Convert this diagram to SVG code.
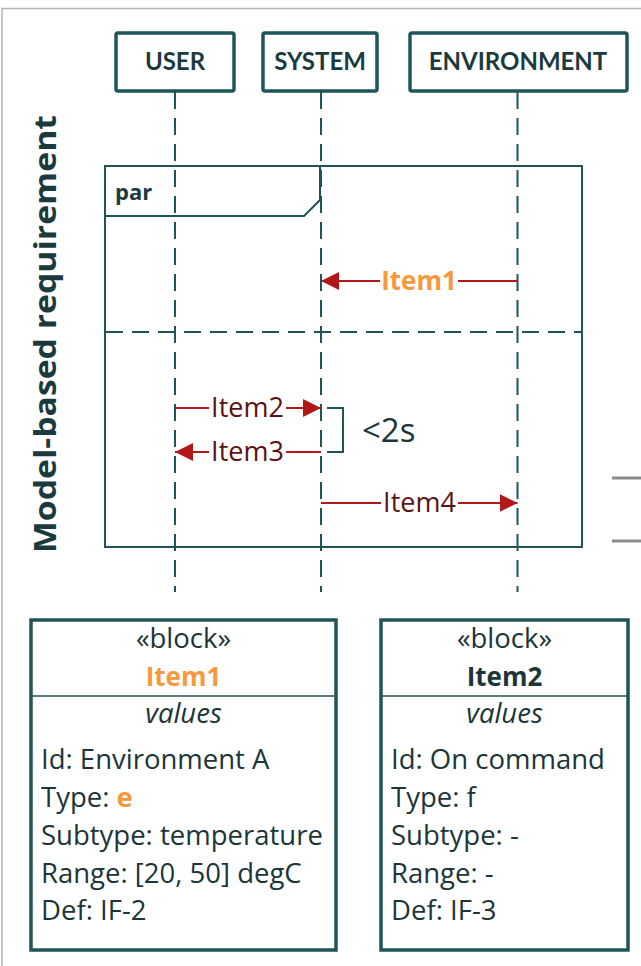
<svg xmlns="http://www.w3.org/2000/svg" width="641" height="966" viewBox="0 0 641 966">
  <style>
    .frameline { stroke: #b4b4b4; stroke-width: 1.5; fill: none; }
    .hdr { fill: #ffffff; stroke: #1f5558; stroke-width: 3.5; }
    .hdrtxt { font-family: Lato, "Open Sans", sans-serif; font-weight: bold; font-size: 24px; fill: #1b3a3d; text-anchor: middle; }
    .life { stroke: #1f5558; stroke-width: 2; stroke-dasharray: 17 9; fill: none; }
    .frag { stroke: #1f5558; stroke-width: 2; fill: none; }
    .sep { stroke: #1f5558; stroke-width: 2; stroke-dasharray: 17 9; fill: none; }
    .msg { stroke: #b2171a; stroke-width: 2; fill: none; }
    .lbl { font-family: "Open Sans", Lato, sans-serif; font-size: 27px; fill: #5e1214; text-anchor: middle; }
    .lbl1 { font-family: "Open Sans", Lato, sans-serif; font-size: 26px; font-weight: bold; fill: #f7993a; text-anchor: middle; }
    .blk { fill: #ffffff; stroke: #1f5558; stroke-width: 3.5; }
    .div { stroke: #1f5558; stroke-width: 1.5; }
    .btxt { font-family: "Open Sans", Lato, sans-serif; font-size: 27.5px; fill: #1b3538; }
    .mid { text-anchor: middle; }
    .ttl { font-weight: bold; font-size: 26px; }
    .org { fill: #f7993a; }
  </style>
  <defs>
    <marker id="head" viewBox="0 0 18 18" refX="18" refY="9" markerWidth="18" markerHeight="18" markerUnits="userSpaceOnUse" orient="auto">
      <path d="M0,0 L18,9 L0,18 Z" fill="#b2171a"/>
    </marker>
  </defs>

  <!-- page edge -->
  <path class="frameline" d="M2,966 L2,8.5 L641,8.5"/>

  <!-- vertical title -->
  <text x="56" y="334" transform="rotate(-90 56 334)" font-family="'Open Sans', Lato, sans-serif" font-weight="bold" font-size="31" fill="#1b3a3d" text-anchor="middle" textLength="438" lengthAdjust="spacingAndGlyphs">Model-based requirement</text>

  <!-- lifelines -->
  <g id="lifelines">
    <line class="life" x1="175" y1="92" x2="175" y2="592"/>
    <line class="life" x1="321" y1="92" x2="321" y2="592"/>
    <line class="life" x1="517.5" y1="92" x2="517.5" y2="592"/>
  </g>

  <!-- lifeline heads -->
  <g id="user">
    <rect class="hdr" x="116" y="33" width="118" height="58" rx="2"/>
    <text class="hdrtxt" x="175" y="70">USER</text>
  </g>
  <g id="system">
    <rect class="hdr" x="263" y="33" width="114" height="58" rx="2"/>
    <text class="hdrtxt" x="320" y="70">SYSTEM</text>
  </g>
  <g id="environment">
    <rect class="hdr" x="410" y="33" width="217" height="58" rx="2"/>
    <text class="hdrtxt" x="518" y="70">ENVIRONMENT</text>
  </g>

  <!-- par combined fragment -->
  <g id="par">
    <rect class="frag" x="105" y="166" width="477" height="381"/>
    <path class="frag" d="M105,216 L304,216 L320,200 L320,166"/>
    <text x="115" y="200" font-family="'Open Sans', Lato, sans-serif" font-weight="bold" font-size="22" fill="#1b3a3d">par</text>
    <line class="sep" x1="106" y1="332" x2="581" y2="332"/>
  </g>

  <!-- messages -->
  <g id="connectors">
    <path class="msg" d="M517.5,281 L458,281"/>
    <path class="msg" d="M380,281 L321,281" marker-end="url(#head)"/>
    <path class="msg" d="M175,408 L209,408"/>
    <path class="msg" d="M286,408 L321,408" marker-end="url(#head)"/>
    <path class="msg" d="M209,452 L175,452" marker-end="url(#head)"/>
    <path class="msg" d="M321,452 L286,452"/>
    <path class="msg" d="M321,503 L381,503"/>
    <path class="msg" d="M458,503 L517.5,503" marker-end="url(#head)"/>
    <!-- duration constraint bracket -->
    <path class="frag" d="M327,408 L343,408 L343,452 L327,452"/>
  </g>

  <g id="labels">
    <text class="lbl1" x="419" y="290">Item1</text>
    <text class="lbl" x="247.5" y="417">Item2</text>
    <text class="lbl" x="247.5" y="461">Item3</text>
    <text class="lbl" x="419.5" y="512">Item4</text>
    <text x="362" y="442" font-family="'Open Sans', Lato, sans-serif" font-size="33" fill="#1b3538">&lt;2s</text>
  </g>

  <!-- side marks -->
  <line x1="612" y1="478" x2="641" y2="478" stroke="#8a8a8a" stroke-width="3"/>
  <line x1="612" y1="541" x2="641" y2="541" stroke="#8a8a8a" stroke-width="3"/>

  <!-- blocks -->
  <g id="block-item1">
    <rect class="blk" x="31" y="620" width="305" height="330"/>
    <line class="div" x1="31" y1="696" x2="336" y2="696"/>
    <text class="btxt mid" x="183.5" y="648">«block»</text>
    <text class="btxt mid ttl org" x="183.5" y="686">Item1</text>
    <text class="btxt mid" x="183.5" y="723" font-style="italic">values</text>
    <text class="btxt" x="41" y="769">Id: Environment A</text>
    <text class="btxt" x="41" y="807">Type: <tspan class="org" font-weight="bold">e</tspan></text>
    <text class="btxt" x="41" y="845">Subtype: temperature</text>
    <text class="btxt" x="41" y="883">Range: [20, 50] degC</text>
    <text class="btxt" x="41" y="920">Def: IF-2</text>
  </g>
  <g id="block-item2">
    <rect class="blk" x="381" y="620" width="247" height="330"/>
    <line class="div" x1="381" y1="696" x2="628" y2="696"/>
    <text class="btxt mid" x="504.5" y="648">«block»</text>
    <text class="btxt mid ttl" x="504.5" y="686">Item2</text>
    <text class="btxt mid" x="504.5" y="723" font-style="italic">values</text>
    <text class="btxt" x="391" y="769">Id: On command</text>
    <text class="btxt" x="391" y="807">Type: f</text>
    <text class="btxt" x="391" y="845">Subtype: -</text>
    <text class="btxt" x="391" y="883">Range: -</text>
    <text class="btxt" x="391" y="920">Def: IF-3</text>
  </g>
</svg>
